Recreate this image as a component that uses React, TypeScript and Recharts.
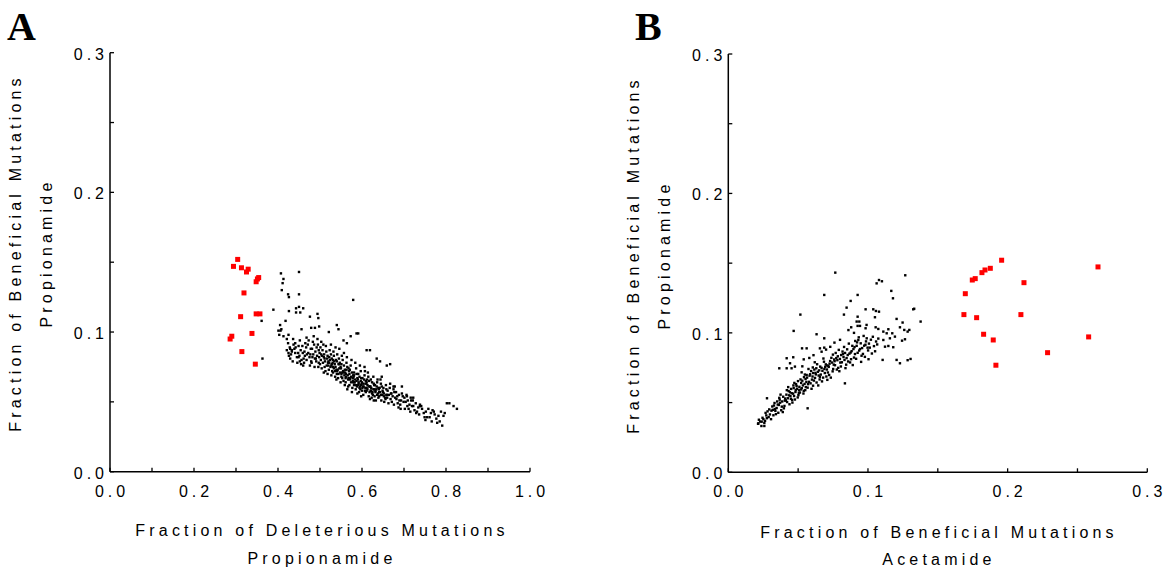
import React from "react";
import { ScatterChart, Scatter, XAxis, YAxis } from "recharts";

// ticks
const Y_TICKS = [0, 0.05, 0.1, 0.15, 0.2, 0.25, 0.3];
const Y_LABELS = ["0.0", "0.1", "0.2", "0.3"];
const A_X_TICKS = [0, 0.1, 0.2, 0.3, 0.4, 0.5, 0.6, 0.7, 0.8, 0.9, 1.0];
const A_X_LABELS = ["0.0", "0.2", "0.4", "0.6", "0.8", "1.0"];
const B_X_TICKS = [0, 0.05, 0.1, 0.15, 0.2, 0.25, 0.3];
const B_X_LABELS = ["0.0", "0.1", "0.2", "0.3"];

// panel A: deleterious (x) vs beneficial (y), propionamide
const A_RED: [number, number][] = [
  [0.304, 0.152], [0.294, 0.147], [0.313, 0.146], [0.325, 0.143], [0.329, 0.145],
  [0.348, 0.136], [0.354, 0.139], [0.351, 0.138], [0.319, 0.128], [0.348, 0.113],
  [0.357, 0.113], [0.311, 0.111], [0.338, 0.099], [0.29, 0.097], [0.286, 0.095],
  [0.314, 0.086], [0.346, 0.077],
];

const A_BLACK_SPARSE: [number, number][] = [
  [0.407, 0.142], [0.45, 0.143], [0.413, 0.138], [0.411, 0.135], [0.409, 0.13], [0.424, 0.127],
  [0.426, 0.125], [0.45, 0.127], [0.579, 0.123], [0.389, 0.116], [0.361, 0.108], [0.363, 0.081],
  [0.45, 0.118], [0.443, 0.117], [0.453, 0.114], [0.443, 0.114], [0.46, 0.117], [0.426, 0.115],
  [0.418, 0.108], [0.405, 0.105], [0.408, 0.102], [0.401, 0.101], [0.476, 0.111], [0.494, 0.113],
  [0.496, 0.11], [0.479, 0.103], [0.488, 0.103], [0.498, 0.104], [0.521, 0.1], [0.54, 0.105],
  [0.544, 0.102], [0.591, 0.099], [0.587, 0.099], [0.573, 0.097], [0.556, 0.094], [0.564, 0.092],
  [0.456, 0.102], [0.406, 0.101], [0.403, 0.098], [0.413, 0.097], [0.421, 0.095], [0.425, 0.098],
  [0.429, 0.088], [0.425, 0.085], [0.433, 0.087], [0.441, 0.085], [0.449, 0.082], [0.46, 0.076],
  [0.452, 0.079], [0.468, 0.08], [0.611, 0.087], [0.619, 0.087], [0.635, 0.081], [0.643, 0.079],
  [0.659, 0.076], [0.667, 0.077], [0.647, 0.068], [0.675, 0.061], [0.695, 0.061], [0.707, 0.054],
  [0.722, 0.053], [0.738, 0.047], [0.802, 0.049], [0.808, 0.049], [0.818, 0.047], [0.826, 0.045],
];

const A_BLACK_BAND: [number, number][] = [
  [0.421, 0.087], [0.426, 0.083], [0.424, 0.092], [0.428, 0.089], [0.429, 0.081],
  [0.433, 0.086], [0.437, 0.091], [0.431, 0.084], [0.439, 0.088], [0.435, 0.079], [0.436, 0.095],
  [0.442, 0.089], [0.448, 0.085], [0.445, 0.082], [0.441, 0.092], [0.449, 0.09], [0.446, 0.078],
  [0.454, 0.087], [0.451, 0.083], [0.458, 0.09], [0.456, 0.08], [0.452, 0.094], [0.459, 0.085], [0.455, 0.077],
  [0.463, 0.086], [0.467, 0.089], [0.461, 0.081], [0.469, 0.084], [0.465, 0.092], [0.462, 0.078], [0.468, 0.096], [0.464, 0.083],
  [0.472, 0.085], [0.478, 0.088], [0.475, 0.082], [0.471, 0.091], [0.479, 0.079], [0.473, 0.094], [0.477, 0.084], [0.476, 0.076],
  [0.484, 0.084], [0.481, 0.088], [0.488, 0.081], [0.486, 0.091], [0.48, 0.078], [0.489, 0.086], [0.483, 0.093], [0.487, 0.075], [0.482, 0.082], [0.485, 0.097],
  [0.493, 0.083], [0.497, 0.087], [0.491, 0.079], [0.499, 0.085], [0.495, 0.091], [0.49, 0.081], [0.496, 0.075], [0.492, 0.089], [0.498, 0.082], [0.494, 0.095], [0.497, 0.078],
  [0.503, 0.084], [0.507, 0.078], [0.501, 0.089], [0.509, 0.082], [0.504, 0.074], [0.506, 0.087], [0.502, 0.08], [0.508, 0.091], [0.505, 0.083], [0.5, 0.077], [0.509, 0.071], [0.503, 0.093],
  [0.512, 0.079], [0.518, 0.083], [0.511, 0.075], [0.515, 0.086], [0.519, 0.078], [0.513, 0.072], [0.517, 0.081], [0.51, 0.084], [0.516, 0.076], [0.514, 0.09], [0.518, 0.07], [0.511, 0.081],
  [0.524, 0.08], [0.521, 0.073], [0.528, 0.077], [0.526, 0.084], [0.52, 0.079], [0.529, 0.072], [0.523, 0.087], [0.527, 0.069], [0.525, 0.075], [0.522, 0.082], [0.528, 0.081], [0.52, 0.076], [0.526, 0.091],
  [0.535, 0.077], [0.531, 0.071], [0.538, 0.08], [0.533, 0.083], [0.539, 0.073], [0.53, 0.078], [0.536, 0.068], [0.532, 0.086], [0.537, 0.075], [0.534, 0.079], [0.539, 0.066], [0.531, 0.075], [0.537, 0.089],
  [0.542, 0.073], [0.547, 0.078], [0.54, 0.07], [0.545, 0.081], [0.549, 0.075], [0.543, 0.067], [0.548, 0.071], [0.541, 0.084], [0.546, 0.074], [0.544, 0.077], [0.549, 0.064], [0.54, 0.079], [0.546, 0.088],
  [0.553, 0.071], [0.557, 0.076], [0.551, 0.068], [0.559, 0.073], [0.554, 0.08], [0.55, 0.074], [0.556, 0.065], [0.558, 0.069], [0.552, 0.083], [0.555, 0.072], [0.559, 0.062], [0.551, 0.077], [0.557, 0.085],
  [0.562, 0.07], [0.568, 0.067], [0.565, 0.075], [0.561, 0.064], [0.569, 0.072], [0.563, 0.078], [0.567, 0.061], [0.56, 0.071], [0.566, 0.069], [0.564, 0.082], [0.568, 0.074], [0.561, 0.067], [0.565, 0.059],
  [0.574, 0.068], [0.571, 0.073], [0.578, 0.065], [0.576, 0.071], [0.57, 0.062], [0.579, 0.069], [0.573, 0.076], [0.577, 0.06], [0.572, 0.067], [0.575, 0.08], [0.579, 0.064], [0.57, 0.07], [0.576, 0.057],
  [0.583, 0.066], [0.587, 0.07], [0.581, 0.062], [0.589, 0.067], [0.585, 0.059], [0.58, 0.068], [0.586, 0.074], [0.582, 0.064], [0.588, 0.061], [0.584, 0.078], [0.589, 0.056], [0.581, 0.071], [0.587, 0.065],
  [0.592, 0.064], [0.598, 0.067], [0.595, 0.061], [0.591, 0.07], [0.599, 0.063], [0.593, 0.057], [0.597, 0.072], [0.59, 0.066], [0.596, 0.059], [0.594, 0.068], [0.598, 0.054], [0.591, 0.062], [0.595, 0.076],
  [0.604, 0.063], [0.601, 0.067], [0.608, 0.06], [0.606, 0.069], [0.6, 0.058], [0.609, 0.065], [0.603, 0.055], [0.607, 0.072], [0.602, 0.061], [0.605, 0.066], [0.609, 0.057], [0.6, 0.064], [0.606, 0.075],
  [0.613, 0.062], [0.617, 0.065], [0.611, 0.058], [0.619, 0.061], [0.615, 0.068], [0.61, 0.063], [0.616, 0.054], [0.612, 0.066], [0.618, 0.057], [0.614, 0.071], [0.619, 0.052], [0.611, 0.06],
  [0.622, 0.06], [0.628, 0.063], [0.625, 0.057], [0.621, 0.066], [0.629, 0.059], [0.623, 0.053], [0.627, 0.068], [0.62, 0.061], [0.626, 0.055], [0.624, 0.064], [0.628, 0.051], [0.621, 0.058],
  [0.634, 0.059], [0.631, 0.062], [0.638, 0.056], [0.636, 0.064], [0.63, 0.054], [0.639, 0.06], [0.633, 0.051], [0.637, 0.066], [0.632, 0.057], [0.635, 0.061], [0.639, 0.053],
  [0.643, 0.057], [0.647, 0.061], [0.641, 0.054], [0.649, 0.058], [0.645, 0.063], [0.64, 0.059], [0.646, 0.051], [0.642, 0.06], [0.648, 0.055], [0.644, 0.066],
  [0.652, 0.056], [0.658, 0.059], [0.655, 0.053], [0.651, 0.06], [0.659, 0.055], [0.653, 0.05], [0.657, 0.062], [0.65, 0.057], [0.656, 0.052],
  [0.664, 0.055], [0.661, 0.058], [0.668, 0.052], [0.666, 0.06], [0.66, 0.053], [0.669, 0.056], [0.663, 0.049], [0.667, 0.063],
  [0.673, 0.054], [0.677, 0.057], [0.671, 0.05], [0.679, 0.053], [0.675, 0.059], [0.67, 0.056], [0.676, 0.048], [0.678, 0.061],
  [0.682, 0.052], [0.688, 0.055], [0.685, 0.049], [0.681, 0.057], [0.689, 0.051], [0.684, 0.054], [0.687, 0.046],
  [0.693, 0.051], [0.697, 0.054], [0.691, 0.048], [0.699, 0.05], [0.695, 0.056], [0.692, 0.045],
  [0.704, 0.05], [0.701, 0.053], [0.708, 0.047], [0.706, 0.055], [0.702, 0.045], [0.709, 0.051],
  [0.713, 0.048], [0.717, 0.051], [0.711, 0.045], [0.719, 0.047], [0.715, 0.043], [0.716, 0.053],
  [0.722, 0.047], [0.728, 0.049], [0.725, 0.044], [0.721, 0.051], [0.729, 0.042],
  [0.734, 0.046], [0.731, 0.043], [0.738, 0.048], [0.736, 0.041],
  [0.743, 0.045], [0.747, 0.042], [0.741, 0.047], [0.749, 0.039],
  [0.752, 0.043], [0.758, 0.045], [0.755, 0.039], [0.751, 0.037],
  [0.764, 0.042], [0.761, 0.039], [0.768, 0.044], [0.766, 0.036],
  [0.773, 0.041], [0.777, 0.038], [0.771, 0.043], [0.779, 0.035],
  [0.782, 0.04], [0.788, 0.043], [0.785, 0.036], [0.791, 0.033], [0.794, 0.04], [0.797, 0.042],
];

// denser middle of the A cloud
const A_BLACK_CORE: [number, number][] = [
  [0.522, 0.078], [0.527, 0.076], [0.533, 0.074], [0.536, 0.072], [0.541, 0.072], [0.544, 0.07],
  [0.551, 0.07], [0.553, 0.067], [0.556, 0.071], [0.562, 0.068], [0.567, 0.066], [0.571, 0.066],
  [0.574, 0.064], [0.578, 0.067], [0.582, 0.064], [0.586, 0.062], [0.592, 0.063], [0.594, 0.06],
  [0.598, 0.062], [0.601, 0.06], [0.604, 0.061], [0.607, 0.058], [0.613, 0.059], [0.616, 0.061],
  [0.621, 0.058], [0.624, 0.056], [0.627, 0.059], [0.632, 0.058], [0.636, 0.055], [0.641, 0.057],
  [0.645, 0.055], [0.652, 0.054], [0.658, 0.055], [0.531, 0.08], [0.546, 0.077], [0.563, 0.073],
  [0.581, 0.069], [0.597, 0.065], [0.611, 0.064], [0.629, 0.062],
];

// panel B: beneficial acetamide (x) vs beneficial propionamide (y)
const B_RED: [number, number][] = [
  [0.1957, 0.1521], [0.2647, 0.1473], [0.1876, 0.1463], [0.1838, 0.1451], [0.1816, 0.1432],
  [0.1768, 0.1389], [0.1747, 0.1379], [0.2117, 0.136], [0.1697, 0.1281], [0.1687, 0.1131],
  [0.2095, 0.1131], [0.1778, 0.1109], [0.1828, 0.099], [0.258, 0.0971], [0.1897, 0.0949],
  [0.2286, 0.0858], [0.1916, 0.0768],
];

const B_BLACK_SPARSE: [number, number][] = [
  [0.0766, 0.1432], [0.1267, 0.1413], [0.1062, 0.1355], [0.1079, 0.1379], [0.11, 0.137], [0.0687, 0.1272],
  [0.0926, 0.1272], [0.1167, 0.1301], [0.1179, 0.1248], [0.0876, 0.1229], [0.0847, 0.1181], [0.0828, 0.1131],
  [0.0516, 0.1131], [0.0983, 0.1169], [0.1038, 0.1169], [0.1057, 0.1157], [0.1079, 0.1152], [0.1324, 0.1169],
  [0.0468, 0.1014], [0.0926, 0.1116], [0.0938, 0.1081], [0.0919, 0.1081], [0.0943, 0.105], [0.0926, 0.105],
  [0.0983, 0.1033], [0.099, 0.1057], [0.105, 0.1112], [0.1055, 0.104], [0.1074, 0.1028], [0.111, 0.1009],
  [0.1134, 0.0997], [0.1146, 0.1026], [0.1174, 0.0997], [0.1205, 0.11], [0.1248, 0.1074], [0.1229, 0.104],
  [0.126, 0.1021], [0.1296, 0.1021], [0.1157, 0.0961], [0.1193, 0.0973], [0.111, 0.0949], [0.1122, 0.0901],
  [0.1146, 0.0906], [0.1181, 0.0897], [0.1105, 0.0806], [0.1205, 0.0806], [0.1229, 0.0782], [0.1305, 0.0813],
  [0.1265, 0.0954], [0.1377, 0.1081], [0.1331, 0.1173], [0.1284, 0.1009], [0.1284, 0.0804], [0.1244, 0.0944],
  [0.0365, 0.0746], [0.0418, 0.0818], [0.0442, 0.0782], [0.0418, 0.0746], [0.0453, 0.0746], [0.0477, 0.0758],
  [0.0465, 0.0825], [0.0528, 0.0889], [0.0561, 0.0889], [0.0632, 0.099], [0.0687, 0.0961], [0.0656, 0.0889],
  [0.0668, 0.0865], [0.0687, 0.0894], [0.0568, 0.0459], [0.0277, 0.0531], [0.0258, 0.0332], [0.0215, 0.0351],
  [0.0239, 0.0363], [0.0835, 0.0638], [0.054, 0.081], [0.053, 0.076], [0.058, 0.082], [0.061, 0.084],
  [0.07, 0.088], [0.073, 0.09], [0.076, 0.093], [0.08, 0.095], [0.086, 0.102], [0.088, 0.104], [0.09, 0.1],
];

const B_BLACK_BAND: [number, number][] = [
  [0.0213, 0.0348], [0.0251, 0.0381], [0.0228, 0.0364], [0.0237, 0.0332], [0.0219, 0.0377], [0.0258, 0.0354], [0.0245, 0.0391],
  [0.0272, 0.0408], [0.0306, 0.0381], [0.0281, 0.0437], [0.0263, 0.0369], [0.0298, 0.0415], [0.0289, 0.0396], [0.0267, 0.0426],
  [0.0309, 0.0442], [0.0276, 0.0388], [0.0293, 0.0451],
  [0.0337, 0.0441], [0.0315, 0.0472], [0.0354, 0.0486], [0.0323, 0.0409], [0.0346, 0.0461], [0.0331, 0.0497], [0.0358, 0.0427],
  [0.0319, 0.0448], [0.0341, 0.0417], [0.0327, 0.0479], [0.035, 0.0508], [0.0334, 0.0454],
  [0.0368, 0.0521], [0.0402, 0.0476], [0.0379, 0.0445], [0.0393, 0.0542], [0.0362, 0.0483], [0.0386, 0.0508], [0.0407, 0.0529],
  [0.0374, 0.0557], [0.0398, 0.0459], [0.0383, 0.0471], [0.0371, 0.0499], [0.0405, 0.0514], [0.039, 0.0432], [0.0365, 0.0534],
  [0.0445, 0.0546], [0.0421, 0.0504], [0.0457, 0.0519], [0.0432, 0.0583], [0.0416, 0.0557], [0.045, 0.0598], [0.0438, 0.0488],
  [0.0426, 0.0531], [0.0454, 0.0567], [0.0412, 0.0516], [0.0441, 0.0574], [0.0429, 0.0611], [0.0448, 0.0527], [0.0435, 0.0552],
  [0.0419, 0.0589], [0.0459, 0.05],
  [0.0464, 0.0564], [0.0489, 0.0619], [0.0506, 0.0588], [0.0473, 0.0641], [0.0497, 0.0537], [0.0481, 0.0576], [0.0468, 0.0604],
  [0.0502, 0.0553], [0.0493, 0.0599], [0.0477, 0.0522], [0.0485, 0.0632], [0.0509, 0.0613], [0.0471, 0.0547], [0.0499, 0.0654],
  [0.0483, 0.0591], [0.0505, 0.0568], [0.0466, 0.0623],
  [0.0534, 0.0623], [0.0517, 0.0666], [0.0551, 0.0589], [0.0526, 0.0603], [0.0559, 0.0648], [0.0542, 0.0682], [0.0513, 0.0572],
  [0.0546, 0.0634], [0.0522, 0.0641], [0.0555, 0.0611], [0.0538, 0.0565], [0.053, 0.0657], [0.0548, 0.0701], [0.0519, 0.0594],
  [0.0553, 0.0669], [0.0525, 0.0717], [0.054, 0.0584],
  [0.0599, 0.0665], [0.0571, 0.0632], [0.0586, 0.0703], [0.0607, 0.0621], [0.0564, 0.0679], [0.0593, 0.0726], [0.0578, 0.0649],
  [0.0603, 0.0687], [0.0568, 0.0607], [0.0589, 0.0638], [0.0582, 0.0693], [0.0608, 0.0712], [0.0574, 0.0741], [0.0596, 0.0599],
  [0.0561, 0.0698], [0.0605, 0.0752],
  [0.0627, 0.0702], [0.0654, 0.0666], [0.0616, 0.0737], [0.0641, 0.0721], [0.0632, 0.0644], [0.0658, 0.0758], [0.0621, 0.0677],
  [0.0647, 0.0694], [0.0636, 0.0775], [0.0613, 0.0658], [0.0651, 0.0731], [0.0624, 0.0713], [0.0644, 0.0623], [0.063, 0.0746],
  [0.0656, 0.0685], [0.0619, 0.0789],
  [0.0691, 0.0712], [0.0668, 0.0749], [0.0706, 0.0737], [0.0679, 0.0679], [0.0698, 0.0774], [0.0662, 0.0701], [0.0685, 0.0793],
  [0.0702, 0.0687], [0.0674, 0.0728], [0.0694, 0.0756], [0.0709, 0.0663], [0.0681, 0.0816], [0.0671, 0.0652], [0.0704, 0.0767],
  [0.0688, 0.0741],
  [0.0716, 0.0764], [0.0747, 0.0724], [0.0729, 0.0798], [0.0755, 0.0772], [0.0722, 0.0698], [0.0738, 0.0821], [0.0751, 0.0741],
  [0.0713, 0.0716], [0.0743, 0.0787], [0.0734, 0.0679], [0.0758, 0.0809], [0.0725, 0.0779], [0.0749, 0.0844], [0.0719, 0.0756],
  [0.0802, 0.0787], [0.0773, 0.0819], [0.0787, 0.0749], [0.0808, 0.0841], [0.0764, 0.0768], [0.0795, 0.0725], [0.0781, 0.0804],
  [0.0769, 0.0856], [0.0799, 0.0813], [0.0777, 0.0737], [0.0791, 0.0878], [0.0806, 0.0759], [0.0784, 0.0832], [0.0761, 0.0797],
  [0.0832, 0.0806], [0.0855, 0.0841], [0.0818, 0.0866], [0.0844, 0.0772], [0.0825, 0.0827], [0.0851, 0.0882], [0.0839, 0.0747],
  [0.0813, 0.0789], [0.0847, 0.0819], [0.0829, 0.0899], [0.0858, 0.0795], [0.0821, 0.0848], [0.0836, 0.0856],
  [0.0867, 0.0851], [0.0896, 0.0884], [0.0879, 0.0811], [0.0907, 0.0848], [0.0888, 0.0907], [0.0872, 0.0788], [0.09, 0.0823],
  [0.0883, 0.0869], [0.0863, 0.0923], [0.0904, 0.0898], [0.0891, 0.0769], [0.0876, 0.0859], [0.0909, 0.0942],
  [0.0937, 0.0873], [0.0919, 0.0907], [0.0954, 0.0836], [0.0926, 0.0857], [0.0948, 0.0925], [0.0931, 0.0949], [0.0958, 0.0891],
  [0.0915, 0.0814], [0.0943, 0.0884], [0.0922, 0.0932], [0.0951, 0.0792], [0.0934, 0.0968],
  [0.0973, 0.0908], [0.1001, 0.0874], [0.0986, 0.0939], [0.0964, 0.0849], [0.1007, 0.0923], [0.0991, 0.0961], [0.0978, 0.0828],
  [0.0997, 0.0894], [0.0969, 0.0978], [0.1004, 0.0811], [0.0982, 0.0915],
  [0.1013, 0.0894], [0.1021, 0.0951], [0.1028, 0.0852], [0.1035, 0.0972], [0.1043, 0.0905], [0.1051, 0.0868], [0.1058, 0.0938],
  [0.1066, 0.0917], [0.1074, 0.0959],
];

const W = 1167;
const H = 574;
const FONT = "'Liberation Sans', Arial, sans-serif";
const SERIF = "'Liberation Serif', 'Times New Roman', serif";
const Y_AXIS_W = 50;
const X_AXIS_H = 30;

const toPts = (arr: [number, number][]) => arr.map(([x, y]) => ({ x, y }));

const BlackDot = (p: any) => <rect x={p.cx - 1.2} y={p.cy - 1.2} width={2.4} height={2.4} fill="#000" />;
const RedDot = (p: any) => <rect x={p.cx - 2.5} y={p.cy - 2.5} width={5} height={5} fill="#ff0000" />;

function tickText(v: number, labels: string[]) {
  const r = Math.round(v * 10);
  if (Math.abs(v * 10 - r) > 1e-6) return null;
  const t = (r / 10).toFixed(1);
  return labels.includes(t) ? t : null;
}

function makeXTick(labels: string[], axisY: number) {
  return function XTick(props: any) {
    const { x, payload } = props;
    const t = tickText(payload.value, labels);
    return (
      <g>
        <line x1={x} x2={x} y1={axisY} y2={axisY - 4} stroke="#000" strokeWidth={1.3} />
        {t && (
          <text x={x + 2} y={axisY + 25} textAnchor="middle" fontFamily={FONT} fontSize={16} letterSpacing={4} fill="#000">
            {t}
          </text>
        )}
      </g>
    );
  };
}

function makeYTick(labels: string[], axisX: number) {
  return function YTick(props: any) {
    const { y, payload } = props;
    const t = tickText(payload.value, labels);
    return (
      <g>
        <line x1={axisX} x2={axisX + 4} y1={y} y2={y} stroke="#000" strokeWidth={1.3} />
        {t && (
          <text x={axisX - 2} y={y + 7} textAnchor="end" fontFamily={FONT} fontSize={16} letterSpacing={4} fill="#000">
            {t}
          </text>
        )}
      </g>
    );
  };
}

type PanelProps = {
  left: number;
  top: number;
  right: number;
  bottom: number;
  xMax: number;
  xTicks: number[];
  xLabels: string[];
  black: [number, number][];
  red: [number, number][];
};

function Panel({ left, top, right, bottom, xMax, xTicks, xLabels, black, red }: PanelProps) {
  const axisStyle = { stroke: "#000", strokeWidth: 1.5 };
  return (
    <div style={{ position: "absolute", left: 0, top: 0 }}>
      <ScatterChart
        width={W}
        height={H}
        margin={{ left: left - Y_AXIS_W, top, right: W - right, bottom: H - bottom - X_AXIS_H }}
      >
        <XAxis
          type="number"
          dataKey="x"
          domain={[0, xMax]}
          ticks={xTicks}
          interval={0}
          height={X_AXIS_H}
          axisLine={axisStyle}
          tickLine={false}
          tick={makeXTick(xLabels, bottom)}
        />
        <YAxis
          type="number"
          dataKey="y"
          domain={[0, 0.3]}
          ticks={Y_TICKS}
          interval={0}
          width={Y_AXIS_W}
          axisLine={axisStyle}
          tickLine={false}
          tick={makeYTick(Y_LABELS, left)}
        />
        <Scatter data={toPts(black)} shape={BlackDot} isAnimationActive={false} />
        <Scatter data={toPts(red)} shape={RedDot} isAnimationActive={false} />
      </ScatterChart>
    </div>
  );
}

export default function App() {
  const txt = { fontFamily: FONT, fontSize: 16, letterSpacing: 4.2, fill: "#000" } as const;
  return (
    <div style={{ position: "absolute", left: 0, top: 0, width: W, height: H, background: "#fff" }}>
      <Panel
        left={110}
        top={52.7}
        right={530}
        bottom={471.7}
        xMax={1}
        xTicks={A_X_TICKS}
        xLabels={A_X_LABELS}
        black={[...A_BLACK_SPARSE, ...A_BLACK_BAND, ...A_BLACK_CORE]}
        red={A_RED}
      />
      <Panel
        left={728.3}
        top={54}
        right={1147.3}
        bottom={472.3}
        xMax={0.3}
        xTicks={B_X_TICKS}
        xLabels={B_X_LABELS}
        black={[...B_BLACK_SPARSE, ...B_BLACK_BAND]}
        red={B_RED}
      />
      <svg width={W} height={H} style={{ position: "absolute", left: 0, top: 0, pointerEvents: "none" }}>
        <text x={7} y={40} fontFamily={SERIF} fontWeight="bold" fontSize={40} fill="#000">A</text>
        <text x={635} y={40} fontFamily={SERIF} fontWeight="bold" fontSize={40} fill="#000">B</text>

        <text {...txt} x={322} y={536} textAnchor="middle">Fraction of Deleterious Mutations</text>
        <text {...txt} x={322} y={564} textAnchor="middle">Propionamide</text>
        <text {...txt} textAnchor="middle" transform="translate(21,253) rotate(-90)">Fraction of Beneficial Mutations</text>
        <text {...txt} textAnchor="middle" transform="translate(51.5,253) rotate(-90)">Propionamide</text>

        <text {...txt} x={939} y={538} textAnchor="middle">Fraction of Beneficial Mutations</text>
        <text {...txt} x={939} y={565} textAnchor="middle">Acetamide</text>
        <text {...txt} textAnchor="middle" transform="translate(639.3,255) rotate(-90)">Fraction of Beneficial Mutations</text>
        <text {...txt} textAnchor="middle" transform="translate(670.3,255) rotate(-90)">Propionamide</text>
      </svg>
    </div>
  );
}
